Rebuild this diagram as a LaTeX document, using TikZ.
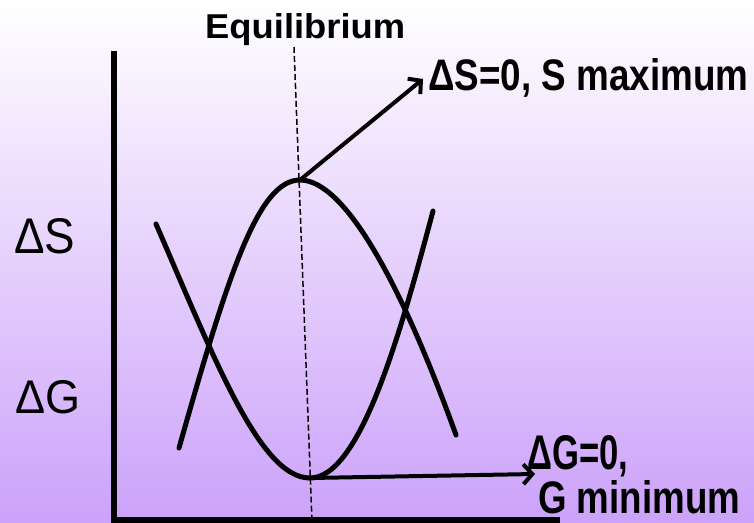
\documentclass[tikz,border=0pt]{standalone}
\usepackage{fontspec}
\setmainfont{Liberation Sans}
\usetikzlibrary{arrows.meta}
\definecolor{bgbottom}{RGB}{204,162,250}
\tikzset{
  curve/.style={line width=5pt, line cap=round},
  axis/.style={line width=5.5pt},
  pointer/.style={line width=4pt, -{Straight Barb[length=9pt,width=20pt]}},
  eqline/.style={line width=1.5pt, dash pattern=on 6pt off 3pt},
  lab/.style={inner sep=0pt, anchor=base west}
}
\newcommand{\fitxt}[3]{\resizebox{#1pt}{#2pt}{#3}}
\begin{document}
\begin{tikzpicture}[x=1pt,y=-1pt]
\useasboundingbox (0,0) rectangle (754,522);
\shade[top color=white, bottom color=bgbottom] (0,0) rectangle (754,522);

% axes
\coordinate (ytop) at (114,51);
\coordinate (origin) at (114,522);
\coordinate (xend) at (560,520);
\draw[axis] (ytop) -- (origin);
\draw[axis] (111.25,520) -- (xend);

% equilibrium dashed line
\coordinate (eqtop) at (294,47);
\coordinate (eqbot) at (312,522);
\draw[eqline] (eqtop) -- (eqbot);

% key points
\coordinate (smaxpt) at (300,180);
\coordinate (gminpt) at (310,478);

% hump curve (S)
\draw[curve] (179,448) .. controls (228,275) and (258,180) .. (smaxpt)
  .. controls (345,180) and (402,285) .. (456,435);
% U curve (G)
\draw[curve] (156,224) .. controls (215,360) and (260,478) .. (gminpt)
  .. controls (360,478) and (400,335) .. (433,211);

% labels
\node[lab] (eq) at (205,38) {\fitxt{200}{25}{\bfseries Equilibrium}};
\node[lab] (smax) at (428,90) {\fitxt{320}{32}{\bfseries ΔS=0, S maximum}};
\node[lab] (gmin1) at (527,469) {\fitxt{101}{34}{\bfseries ΔG=0,}};
\node[lab] (gmin2) at (538,513) {\fitxt{202}{33}{\bfseries G minimum}};
\node[lab] (lblS) at (14,253) {\fitxt{61}{35}{ΔS}};
\node[lab] (lblG) at (15,413) {\fitxt{65}{33}{ΔG}};

% pointers
\coordinate (tipS) at (423,79);
\coordinate (tipG) at (535,474);
\draw[pointer] (smaxpt) -- (tipS);
\draw[pointer] (gminpt) -- (tipG);
\end{tikzpicture}
\end{document}
